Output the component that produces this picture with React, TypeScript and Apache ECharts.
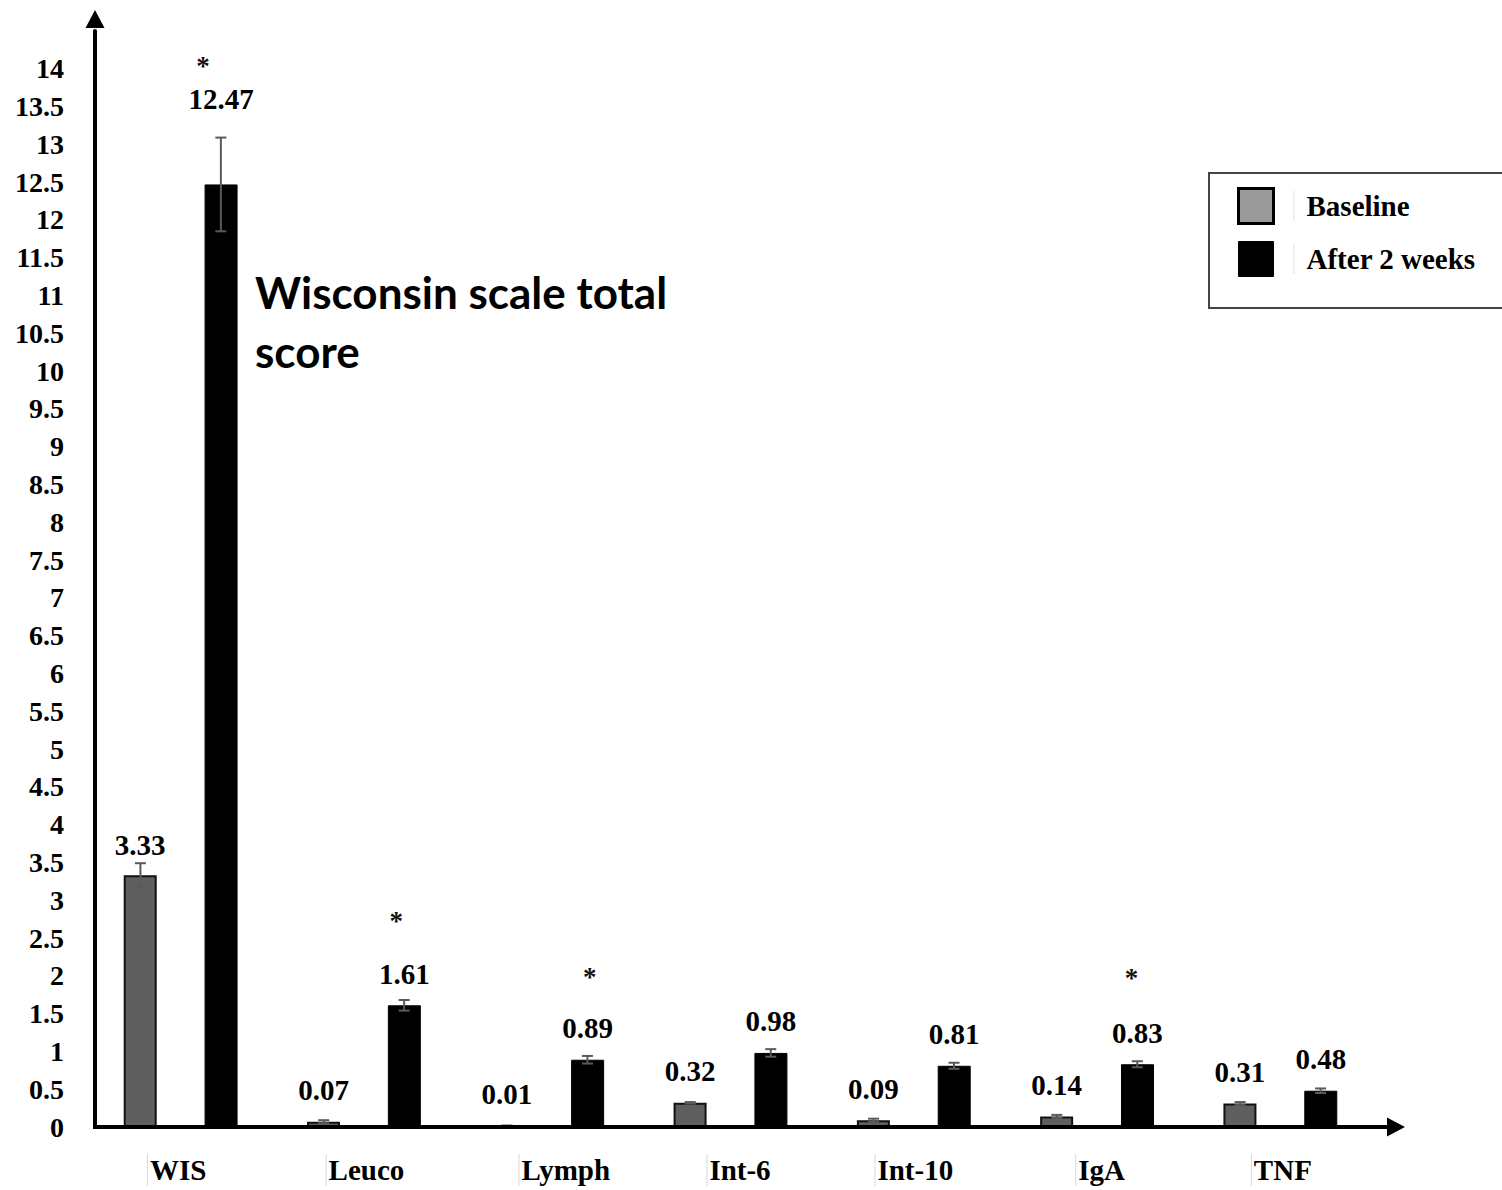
import React, { useEffect, useRef } from "react";
import * as echarts from "echarts";

// Group means (baseline vs. after two weeks) with their standard errors
const categories = ["WIS", "Leuco", "Lymph", "Int-6", "Int-10", "IgA", "TNF"];
const baseline = [3.33, 0.07, 0.01, 0.32, 0.09, 0.14, 0.31];
const after = [12.47, 1.61, 0.89, 0.98, 0.81, 0.83, 0.48];
const baselineErr = [0.16, 0.02, 0.01, 0.01, 0.02, 0.02, 0.02];
const afterErr = [0.62, 0.07, 0.05, 0.05, 0.04, 0.04, 0.03];
const significant = [true, true, true, false, false, true, false];

// Label layout tweaks
const afterLabelDistance = [71, 17, 17, 17, 17, 17, 17];
const baselineLabelDistance = [16, 17, 17, 17, 17, 17, 17];
const starLineHeight = [37, 77, 73, 0, 0, 81, 0];
const starShift = [-18, -8, 2, 0, 0, -6, 0];
const categoryNudge = [-4, 1, 17, 8, 0, 3, 1];

const SERIF = "'Liberation Serif', 'Times New Roman', serif";
const FONT_SIZE = 29;

// Plot area
const GRID_LEFT = 89;
const GRID_TOP = 31;
const GRID_WIDTH = 1283;
const GRID_HEIGHT = 1096;
const Y_AXIS_X = 95;

export default function App() {
  const ref = useRef<HTMLDivElement>(null);

  useEffect(() => {
    if (!ref.current) return;
    const chart = echarts.init(ref.current, undefined, { renderer: "svg" });

    const valueStyle = {
      fontFamily: SERIF,
      fontWeight: "bold",
      fontSize: FONT_SIZE,
      lineHeight: FONT_SIZE,
      color: "#000",
    };

    const afterData = after.map((v, i) => {
      const txt = v.toFixed(2);
      const shift = starShift[i];
      return {
        value: v,
        label: {
          distance: afterLabelDistance[i],
          formatter: significant[i] ? `{s|*}\n{v|${txt}}` : `{v|${txt}}`,
          rich: {
            v: valueStyle,
            s: {
              fontFamily: SERIF,
              fontWeight: "bold",
              fontSize: 27,
              lineHeight: starLineHeight[i] || FONT_SIZE,
              color: "#111",
              padding: shift < 0 ? [0, -2 * shift, 0, 0] : [0, 0, 0, 2 * shift],
            },
          },
        },
      };
    });

    const baselineData = baseline.map((v, i) => ({
      value: v,
      label: { distance: baselineLabelDistance[i] },
    }));

    const catRich: Record<string, any> = {
      tk: { width: 1, height: 32, backgroundColor: "#d9d9d9" },
      c: {
        fontFamily: SERIF,
        fontWeight: "bold",
        fontSize: FONT_SIZE,
        lineHeight: 32,
        color: "#000",
        padding: [0, 0, 0, 2],
      },
    };
    categoryNudge.forEach((n, i) => {
      catRich["p" + i] = { width: Math.max(1, Math.abs(2 * n)), height: 1 };
    });

    const errData = [
      ...baseline.map((v, i) => [i, v, baselineErr[i], -1]),
      ...after.map((v, i) => [i, v, afterErr[i], 1]),
    ];

    const legendRich = {
      sp: { width: 15, height: 1 },
      tk: { width: 1, height: 30, backgroundColor: "#e0e0e0" },
      t: {
        fontFamily: SERIF,
        fontWeight: "bold",
        fontSize: FONT_SIZE,
        color: "#000",
        padding: [0, 0, 0, 12],
      },
    };

    const axisY = GRID_TOP + GRID_HEIGHT;
    const axisEnd = GRID_LEFT + GRID_WIDTH;

    chart.setOption({
      animation: false,
      backgroundColor: "#fff",
      grid: { left: GRID_LEFT, top: GRID_TOP, width: GRID_WIDTH, height: GRID_HEIGHT },
      legend: {
        left: 1209,
        top: 173,
        orient: "vertical",
        icon: "rect",
        itemWidth: 35,
        itemHeight: 35,
        itemGap: 16,
        padding: [14, 80, 31, 28],
        borderColor: "#444",
        borderWidth: 2,
        backgroundColor: "#fff",
        selectedMode: false,
        formatter: (name: string) => `{sp|}{tk|}{t|${name}}`,
        textStyle: { rich: legendRich },
        data: [
          {
            name: "Baseline",
            itemStyle: { color: "#9a9a9a", borderColor: "#000", borderWidth: 3 },
          },
          {
            name: "After 2 weeks",
            itemStyle: { color: "#000", borderColor: "#000", borderWidth: 1 },
          },
        ],
      },
      xAxis: {
        type: "category",
        data: categories,
        axisLine: { show: false },
        axisTick: { show: false },
        axisLabel: {
          margin: 27,
          formatter: (value: string, index: number) => {
            const n = categoryNudge[index];
            if (n > 0) return `{p${index}|}{tk|}{c|${value}}`;
            if (n < 0) return `{tk|}{c|${value}}{p${index}|}`;
            return `{tk|}{c|${value}}`;
          },
          rich: catRich,
        },
        splitLine: { show: false },
      },
      yAxis: {
        type: "value",
        min: 0,
        max: 14.5,
        interval: 0.5,
        offset: GRID_LEFT - Y_AXIS_X,
        axisLine: {
          show: true,
          lineStyle: { color: "#000", width: 4 },
          symbol: ["none", "triangle"],
          symbolSize: [19, 18],
          symbolOffset: [0, 12],
        },
        axisTick: { show: false },
        splitLine: { show: false },
        axisLabel: {
          margin: 31,
          fontFamily: SERIF,
          fontWeight: "bold",
          fontSize: 28,
          color: "#000",
          formatter: (v: number) => (v > 14 ? "" : String(v)),
        },
      },
      series: [
        {
          name: "Baseline",
          type: "bar",
          data: baselineData,
          barWidth: 33,
          barGap: "145%",
          itemStyle: { color: "#5f5f5f", borderColor: "#111", borderWidth: 2 },
          label: {
            show: true,
            position: "top",
            distance: 17,
            ...valueStyle,
          },
        },
        {
          name: "After 2 weeks",
          type: "bar",
          data: afterData,
          barWidth: 33,
          itemStyle: { color: "#000", borderColor: "#000", borderWidth: 1 },
          label: {
            show: true,
            position: "top",
            distance: 17,
            ...valueStyle,
          },
        },
        {
          name: "errors",
          type: "custom",
          z: 5,
          data: errData,
          renderItem: (params: any, api: any) => {
            const idx = api.value(0);
            const val = api.value(1);
            const err = api.value(2);
            const side = api.value(3);
            const band = api.size([1, 0])[0];
            const dx = side * band * 0.2195;
            const top = api.coord([idx, val + err]);
            const bot = api.coord([idx, Math.max(0, val - err)]);
            const x = top[0] + dx;
            const cap = 5.5;
            const style = { stroke: "#5a5a5a", lineWidth: 2 };
            return {
              type: "group",
              children: [
                { type: "line", shape: { x1: x, y1: top[1], x2: x, y2: bot[1] }, style },
                { type: "line", shape: { x1: x - cap, y1: top[1], x2: x + cap, y2: top[1] }, style },
                { type: "line", shape: { x1: x - cap, y1: bot[1], x2: x + cap, y2: bot[1] }, style },
              ],
            };
          },
        },
      ],
      graphic: [
        {
          type: "text",
          left: 255,
          top: 262,
          style: {
            text: "Wisconsin scale total\nscore",
            font: "bold 44px Lato, 'Noto Sans', sans-serif",
            lineHeight: 59,
            fill: "#000",
          },
        },
        // x-axis line running past the plot area into its arrow head
        {
          type: "line",
          z: 10,
          shape: { x1: Y_AXIS_X - 2, y1: axisY, x2: axisEnd + 18, y2: axisY },
          style: { stroke: "#000", lineWidth: 4 },
        },
        {
          type: "polygon",
          z: 10,
          shape: {
            points: [
              [axisEnd + 15, axisY - 9.5],
              [axisEnd + 33, axisY],
              [axisEnd + 15, axisY + 9.5],
            ],
          },
          style: { fill: "#000" },
        },
      ],
    });

    return () => chart.dispose();
  }, []);

  return (
    <div
      ref={ref}
      style={{ position: "absolute", left: 0, top: 0, width: 1502, height: 1190, background: "#fff" }}
    />
  );
}
